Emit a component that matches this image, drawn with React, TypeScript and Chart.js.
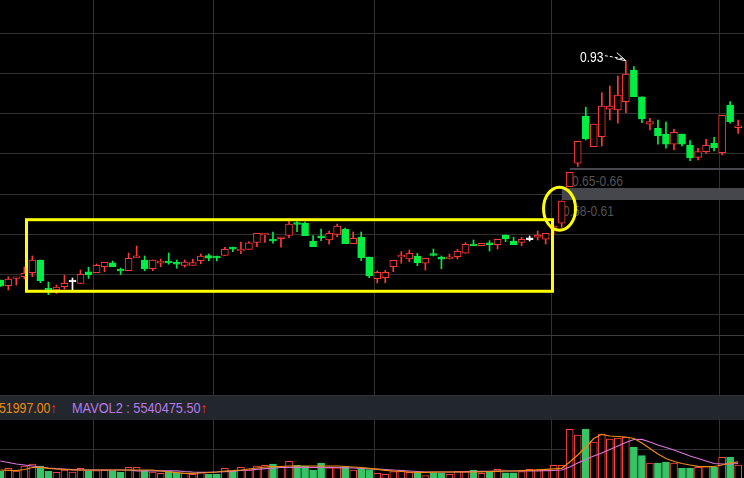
import React, { useEffect, useRef } from "react";
import { Chart, registerables } from "chart.js";

Chart.register(...registerables);

// ---------- data ----------
const opens = [
  0.3865, 0.3723, 0.3915, 0.3947, 0.4046, 0.4362, 0.3653, 0.3616, 0.3698, 0.3840,
  0.3778, 0.4069, 0.4046, 0.4196, 0.4293, 0.4126, 0.4096, 0.4419, 0.4362, 0.4146,
  0.4300, 0.4325, 0.4305, 0.4230, 0.4230, 0.4345, 0.4469, 0.4457, 0.4474, 0.4681,
  0.4593, 0.4628, 0.4802, 0.4994, 0.4872, 0.4902, 0.4976, 0.5282, 0.5275, 0.4835,
  0.4954, 0.4860, 0.5001, 0.5133, 0.4768, 0.4934, 0.4437, 0.3897, 0.3922, 0.4196,
  0.4444, 0.4387, 0.4462, 0.4280, 0.4519, 0.4437, 0.4395, 0.4444, 0.4529, 0.4753,
  0.4718, 0.4792, 0.4743, 0.4984, 0.4835, 0.4802, 0.4892, 0.4927, 0.4877, 0.5126,
  0.5275, 0.6185, 0.6767, 0.7943, 0.7180, 0.7429, 0.8110, 0.8093, 0.8299, 0.9088,
  0.8423, 0.7737, 0.7638, 0.7496, 0.7240, 0.7496, 0.7215, 0.6916, 0.7056, 0.7272,
  0.7031, 0.8217, 0.7665,
];
const highs = [
  0.3865, 0.3947, 0.3932, 0.4188, 0.4462, 0.4362, 0.3815, 0.3740, 0.3982, 0.3915,
  0.4113, 0.4183, 0.4263, 0.4305, 0.4337, 0.4163, 0.4536, 0.4710, 0.4462, 0.4362,
  0.4387, 0.4536, 0.4362, 0.4362, 0.4382, 0.4511, 0.4511, 0.4462, 0.4678, 0.4681,
  0.4810, 0.4822, 0.5026, 0.5019, 0.5059, 0.4927, 0.5315, 0.5315, 0.5307, 0.4967,
  0.5133, 0.5083, 0.5258, 0.5158, 0.5059, 0.5059, 0.4437, 0.4089, 0.4106, 0.4355,
  0.4569, 0.4611, 0.4529, 0.4404, 0.4636, 0.4462, 0.4511, 0.4628, 0.4792, 0.4860,
  0.4778, 0.4842, 0.4877, 0.4984, 0.4927, 0.4927, 0.4959, 0.5083, 0.5026, 0.5208,
  0.5829, 0.6543, 0.7314, 0.8160, 0.7745, 0.8523, 0.8690, 0.8938, 0.9319, 0.9170,
  0.8423, 0.7886, 0.7844, 0.7794, 0.7613, 0.7496, 0.7329, 0.7140, 0.7364, 0.7414,
  0.7961, 0.8299, 0.7844,
];
const lows = [
  0.3703, 0.3616, 0.3740, 0.3890, 0.3947, 0.3798, 0.3499, 0.3529, 0.3641, 0.3591,
  0.3778, 0.3902, 0.4046, 0.4071, 0.4196, 0.4002, 0.4096, 0.4419, 0.4094, 0.4096,
  0.4196, 0.4258, 0.4156, 0.4183, 0.4230, 0.4268, 0.4342, 0.4342, 0.4474, 0.4569,
  0.4519, 0.4628, 0.4693, 0.4802, 0.4778, 0.4678, 0.4917, 0.5066, 0.4967, 0.4693,
  0.4842, 0.4753, 0.4942, 0.4768, 0.4768, 0.4345, 0.3922, 0.3790, 0.3798, 0.4071,
  0.4280, 0.4320, 0.4220, 0.4113, 0.4462, 0.4146, 0.4387, 0.4387, 0.4529, 0.4718,
  0.4718, 0.4586, 0.4636, 0.4817, 0.4743, 0.4718, 0.4835, 0.4860, 0.4760, 0.5009,
  0.5175, 0.6185, 0.6688, 0.7347, 0.7180, 0.7197, 0.7844, 0.7762, 0.8026, 0.8423,
  0.7777, 0.7595, 0.7240, 0.7140, 0.7098, 0.7197, 0.6832, 0.6849, 0.7016, 0.7073,
  0.6973, 0.7762, 0.7513,
];
const closes = [
  0.3716, 0.3890, 0.3932, 0.4031, 0.4362, 0.3847, 0.3616, 0.3691, 0.3783, 0.3840,
  0.4007, 0.3989, 0.4230, 0.4305, 0.4196, 0.4101, 0.4404, 0.4462, 0.4138, 0.4362,
  0.4317, 0.4300, 0.4258, 0.4313, 0.4295, 0.4462, 0.4407, 0.4419, 0.4628, 0.4631,
  0.4623, 0.4790, 0.5026, 0.5019, 0.4847, 0.4927, 0.5258, 0.5258, 0.4967, 0.4693,
  0.4929, 0.5026, 0.5208, 0.4768, 0.4902, 0.4419, 0.3972, 0.4056, 0.4056, 0.4355,
  0.4474, 0.4529, 0.4295, 0.4404, 0.4479, 0.4380, 0.4437, 0.4579, 0.4753, 0.4718,
  0.4778, 0.4743, 0.4877, 0.4892, 0.4743, 0.4877, 0.4892, 0.4984, 0.5026, 0.5208,
  0.5829, 0.6543, 0.7314, 0.7379, 0.7745, 0.8192, 0.8192, 0.8466, 0.8988, 0.8423,
  0.7869, 0.7802, 0.7446, 0.7240, 0.7538, 0.7240, 0.6906, 0.7056, 0.7215, 0.7155,
  0.7961, 0.7802, 0.7690,
];
// volume in millions of shares
const volumesM = [
  2.67, 3.71, 2.67, 4.58, 5.35, 4.58, 2.67, 2.18, 3.06, 2.29,
  3.71, 2.79, 2.79, 3.06, 2.79, 2.29, 4.09, 4.09, 2.79, 2.29,
  1.80, 2.56, 2.02, 1.80, 1.41, 2.18, 1.41, 1.41, 3.71, 2.56,
  4.09, 3.06, 4.58, 4.85, 5.35, 4.47, 6.38, 4.85, 4.58, 3.06,
  5.73, 3.93, 3.93, 4.32, 3.06, 3.44, 3.25, 1.80, 1.41, 2.41,
  3.06, 2.18, 2.18, 0.88, 2.02, 1.80, 1.41, 2.56, 2.56, 3.06,
  1.80, 2.18, 3.32, 2.02, 2.02, 2.41, 3.32, 3.06, 3.06, 4.85,
  4.85, 18.60, 16.43, 18.72, 13.75, 16.81, 14.90, 15.28, 15.55, 11.84,
  8.52, 5.73, 5.73, 6.11, 5.73, 3.82, 3.82, 4.09, 4.32, 4.09,
  7.91, 8.02, 4.97,
];
const mavol1M = [
  3.06, 2.94, 2.79, 3.25, 4.01, 4.09, 3.71, 3.44, 3.25, 3.06,
  3.06, 3.06, 3.06, 3.06, 3.06, 3.06, 3.06, 3.06, 3.06, 3.06,
  2.67, 2.29, 2.02, 1.80, 1.80, 1.91, 2.10, 2.29, 2.67, 2.79,
  3.06, 3.44, 3.82, 4.20, 4.32, 4.39, 4.58, 4.58, 4.58, 4.58,
  4.58, 4.58, 4.58, 4.39, 4.20, 4.01, 3.71, 3.32, 2.94, 2.67,
  2.48, 2.29, 2.18, 2.18, 2.22, 2.29, 2.29, 2.29, 2.29, 2.29,
  2.37, 2.48, 2.56, 2.67, 2.67, 2.79, 2.94, 3.13, 3.32, 3.51,
  3.71, 6.11, 8.79, 11.84, 15.09, 16.69, 16.04, 15.85, 15.66, 15.09,
  13.37, 11.27, 9.17, 7.45, 6.30, 5.54, 4.97, 4.47, 4.32, 4.39,
  4.97, 5.73, 6.15,
];
const mavol2M = [
  6.49, 5.92, 5.35, 4.97, 4.58, 4.20, 3.82, 3.55, 3.36, 3.21,
  3.06, 3.06, 3.06, 3.06, 3.06, 3.06, 3.06, 2.75, 2.75, 2.75,
  2.75, 2.75, 2.75, 2.48, 2.29, 2.18, 2.18, 2.29, 2.41, 2.60,
  2.87, 3.06, 3.32, 3.55, 3.82, 4.01, 4.09, 4.09, 4.09, 4.09,
  4.09, 4.09, 4.01, 3.90, 3.82, 3.71, 3.59, 3.44, 3.25, 3.06,
  2.87, 2.67, 2.48, 2.29, 2.29, 2.29, 2.29, 2.29, 2.37, 2.48,
  2.56, 2.56, 2.60, 2.67, 2.67, 2.67, 2.67, 2.75, 2.79, 2.87,
  3.06, 4.20, 5.73, 7.07, 8.40, 9.55, 10.89, 12.22, 13.56, 14.71,
  14.78, 13.75, 12.61, 11.65, 10.70, 9.55, 8.40, 7.45, 6.49, 5.54,
  5.35, 5.35, 5.54,
];

// axis ticks / reference levels
const priceGridValues = [0.1, 0.2, 0.3, 0.4, 0.5, 0.6, 0.7, 0.8, 0.9, 1.0];
const priceMarkLevel = 0.2472;
const periodBreaks = [11.6, 26.56, 46.6, 68.72, 89.65];
const volumeGridValues = [11.08];

// gap zones: [from, to], starting candle, label
const zoneFrom = [0.5854, 0.6600];
const zoneTo = [0.6153, 0.6650];
const zoneStart = [70, 71];
const zoneLabels = ["0.58-0.61", "0.65-0.66"];

const peakIndex = 78;
const peakLabel = "0.93";
const mavol1Label = "51997.00";
const mavol2Label = "MAVOL2 : 5540475.50";

// highlight box & ellipse (data units)
const boxIdx = [3.267, 68.85];
const boxPrice = [0.3584, 0.5364];
const ellipseCenter = [69.73, 0.5638];

// ---------- styling ----------
const RED = "#ff3838";
const GREEN = "#00ee44";
const WHITE = "#ffffff";
const VOL_RED = "#ff4343";
const VOL_GREEN = "#36c466";
const GRID = "#323232";
const YELLOW = "#ffff00";

const X_MIN = -0.0374;
const X_MAX = 92.73;
const P_MIN = 0.09797;
const P_MAX = 1.0828;
const V_MAX = 22.16;

const dirOf = (i: number) =>
  closes[i] > opens[i] ? 1 : closes[i] < opens[i] ? -1 : 0;

const priceDecor = {
  id: "priceDecor",
  beforeDatasetsDraw(chart: any) {
    const { ctx, scales, chartArea } = chart;
    const x = scales.x;
    const y = scales.y;
    ctx.save();
    ctx.fillStyle = "#46474c";
    zoneStart.forEach((s, i) => {
      const x0 = x.getPixelForValue(s);
      const yt = y.getPixelForValue(zoneTo[i]);
      const yb = y.getPixelForValue(zoneFrom[i]);
      ctx.fillRect(x0, yt, chartArea.right - x0, yb - yt);
    });
    ctx.restore();
  },
  afterDatasetsDraw(chart: any) {
    const { ctx, scales } = chart;
    const x = scales.x;
    const y = scales.y;
    ctx.save();
    // yellow box
    ctx.strokeStyle = YELLOW;
    ctx.lineWidth = 3;
    const l = x.getPixelForValue(boxIdx[0]);
    const r = x.getPixelForValue(boxIdx[1]);
    const t = y.getPixelForValue(boxPrice[1]);
    const b = y.getPixelForValue(boxPrice[0]);
    ctx.strokeRect(l, t, r - l, b - t);
    // yellow ellipse
    const cx = x.getPixelForValue(ellipseCenter[0]);
    const cy = y.getPixelForValue(ellipseCenter[1]);
    ctx.beginPath();
    ctx.ellipse(cx, cy, 16, 21.5, 0, 0, Math.PI * 2);
    ctx.stroke();
    // dashed arrow to the peak
    const tx = x.getPixelForValue(peakIndex);
    const ty = y.getPixelForValue(highs[peakIndex]);
    ctx.strokeStyle = "#ffffff";
    ctx.lineWidth = 1;
    ctx.setLineDash([3, 2]);
    ctx.beginPath();
    ctx.moveTo(tx - 21, ty - 5);
    ctx.lineTo(tx - 3, ty - 2);
    ctx.stroke();
    ctx.setLineDash([]);
    ctx.beginPath();
    ctx.moveTo(tx - 9, ty - 8);
    ctx.lineTo(tx, ty);
    ctx.lineTo(tx - 10, ty - 2);
    ctx.stroke();
    ctx.restore();
  },
};

const zeroHeight = (s: any) => {
  s.height = 0;
};
const zeroWidth = (s: any) => {
  s.width = 0;
};

export default function App() {
  const priceRef = useRef<HTMLCanvasElement>(null);
  const volRef = useRef<HTMLCanvasElement>(null);

  useEffect(() => {
    const minBody = 0.0045;
    const bodyData = opens.map((o, i) => {
      let lo = Math.min(o, closes[i]);
      let hi = Math.max(o, closes[i]);
      if (hi - lo < minBody) {
        const m = (hi + lo) / 2;
        lo = m - minBody / 2;
        hi = m + minBody / 2;
      }
      return { x: i, y: [lo, hi] };
    });
    const wickData = highs.map((h, i) => ({ x: i, y: [lows[i], h] }));
    const candleColor = opens.map((_, i) => {
      const d = dirOf(i);
      return d > 0 ? RED : d < 0 ? GREEN : WHITE;
    });
    const bodyFill = opens.map((_, i) => {
      const d = dirOf(i);
      return d > 0 ? "#000000" : d < 0 ? GREEN : WHITE;
    });

    const xScale = () => ({
      type: "linear",
      min: X_MIN,
      max: X_MAX,
      offset: false,
      grid: { color: GRID, drawTicks: false, offset: false, lineWidth: 1 },
      border: { display: false },
      ticks: { display: false },
      afterBuildTicks: (s: any) => {
        s.ticks = periodBreaks.map((v) => ({ value: v }));
      },
      afterFit: zeroHeight,
    });

    const priceChart = new Chart(priceRef.current as HTMLCanvasElement, {
      type: "bar",
      data: {
        datasets: [
          {
            label: "body",
            data: bodyData as any,
            backgroundColor: bodyFill,
            borderColor: candleColor,
            borderWidth: 1,
            borderSkipped: false,
            barThickness: 7,
            grouped: false,
            order: 0,
          } as any,
          {
            label: "wick",
            data: wickData as any,
            backgroundColor: candleColor,
            borderWidth: 0,
            barThickness: 1,
            grouped: false,
            order: 1,
          } as any,
        ],
      },
      options: {
        animation: false,
        responsive: false,
        devicePixelRatio: 1,
        events: [],
        layout: { padding: 0 },
        plugins: { legend: { display: false }, tooltip: { enabled: false } },
        scales: {
          x: xScale() as any,
          y: {
            type: "linear",
            min: P_MIN,
            max: P_MAX,
            grid: {
              drawTicks: false,
              color: (c: any) =>
                Math.abs(c.tick.value - priceMarkLevel) < 1e-6 ? "#3e3e3e" : GRID,
            },
            border: { display: false },
            ticks: { display: false },
            afterBuildTicks: (s: any) => {
              s.ticks = [...priceGridValues, priceMarkLevel].map((v) => ({ value: v }));
            },
            afterFit: zeroWidth,
          } as any,
        },
      },
      plugins: [priceDecor as any],
    });

    const volColor = volumesM.map((_, i) => (dirOf(i) >= 0 ? VOL_RED : VOL_GREEN));
    const volFill = volumesM.map((_, i) => (dirOf(i) >= 0 ? "#000000" : VOL_GREEN));
    const volChart = new Chart(volRef.current as HTMLCanvasElement, {
      type: "bar",
      data: {
        datasets: [
          {
            type: "line",
            label: "MAVOL1",
            data: mavol1M.map((v, i) => ({ x: i, y: v })),
            borderColor: "#f08a0c",
            borderWidth: 1.2,
            pointRadius: 0,
            tension: 0,
            order: 0,
          } as any,
          {
            type: "line",
            label: "MAVOL2",
            data: mavol2M.map((v, i) => ({ x: i, y: v })),
            borderColor: "#d874d8",
            borderWidth: 1.2,
            pointRadius: 0,
            tension: 0,
            order: 0,
          } as any,
          {
            type: "bar",
            label: "VOL",
            data: volumesM.map((v, i) => ({ x: i, y: v })),
            backgroundColor: volFill,
            borderColor: volColor,
            borderWidth: 1,
            borderSkipped: "start",
            barThickness: 7,
            grouped: false,
            order: 1,
          } as any,
        ],
      },
      options: {
        animation: false,
        responsive: false,
        devicePixelRatio: 1,
        events: [],
        layout: { padding: 0 },
        plugins: { legend: { display: false }, tooltip: { enabled: false } },
        scales: {
          x: xScale() as any,
          y: {
            type: "linear",
            min: 0,
            max: V_MAX,
            grid: { drawTicks: false, color: GRID },
            border: { display: false },
            ticks: { display: false },
            afterBuildTicks: (s: any) => {
              s.ticks = volumeGridValues.map((v) => ({ value: v }));
            },
            afterFit: zeroWidth,
          } as any,
        },
      },
    });

    return () => {
      priceChart.destroy();
      volChart.destroy();
    };
  }, []);

  const font = '"Liberation Sans", Arial, sans-serif';
  const zoneLabelPos = [
    { left: 563, top: 203.5 },
    { left: 572, top: 174 },
  ];

  const textBase = {
    position: "absolute" as const,
    fontSize: 14,
    lineHeight: "14px",
    whiteSpace: "nowrap" as const,
    transformOrigin: "0 0",
  };

  return (
    <div
      style={{
        position: "fixed",
        left: 0,
        top: 0,
        width: 744,
        height: 478,
        background: "#000",
        overflow: "hidden",
        fontFamily: font,
      }}
    >
      {zoneLabels.map((txt, i) => (
        <span
          key={txt}
          style={{
            ...textBase,
            left: zoneLabelPos[i].left,
            top: zoneLabelPos[i].top,
            color: "#505459",
            transform: "scaleX(0.86)",
            zIndex: 0,
          }}
        >
          {txt}
        </span>
      ))}
      <canvas
        ref={priceRef}
        width={744}
        height={396}
        style={{ position: "absolute", left: 0, top: 0, width: 744, height: 396, zIndex: 1 }}
      />
      <span
        style={{
          ...textBase,
          left: 580,
          top: 50,
          color: "#ffffff",
          transform: "scaleX(0.86)",
          zIndex: 2,
        }}
      >
        {peakLabel}
      </span>
      <div
        style={{
          position: "absolute",
          left: 0,
          top: 396,
          width: 744,
          height: 24,
          background: "#22262d",
          zIndex: 1,
        }}
      >
        <span
          style={{
            ...textBase,
            left: -1,
            top: 5.4,
            color: "#ef8a10",
            transform: "scaleX(0.88)",
          }}
        >
          {mavol1Label}
          <span style={{ color: "#ff3030" }}>↑</span>
        </span>
        <span
          style={{
            ...textBase,
            left: 72,
            top: 5.4,
            color: "#b87ae8",
            transform: "scaleX(0.91)",
          }}
        >
          {mavol2Label}
          <span style={{ color: "#ff3030" }}>↑</span>
        </span>
      </div>
      <canvas
        ref={volRef}
        width={744}
        height={58}
        style={{ position: "absolute", left: 0, top: 420, width: 744, height: 58, zIndex: 1 }}
      />
    </div>
  );
}
